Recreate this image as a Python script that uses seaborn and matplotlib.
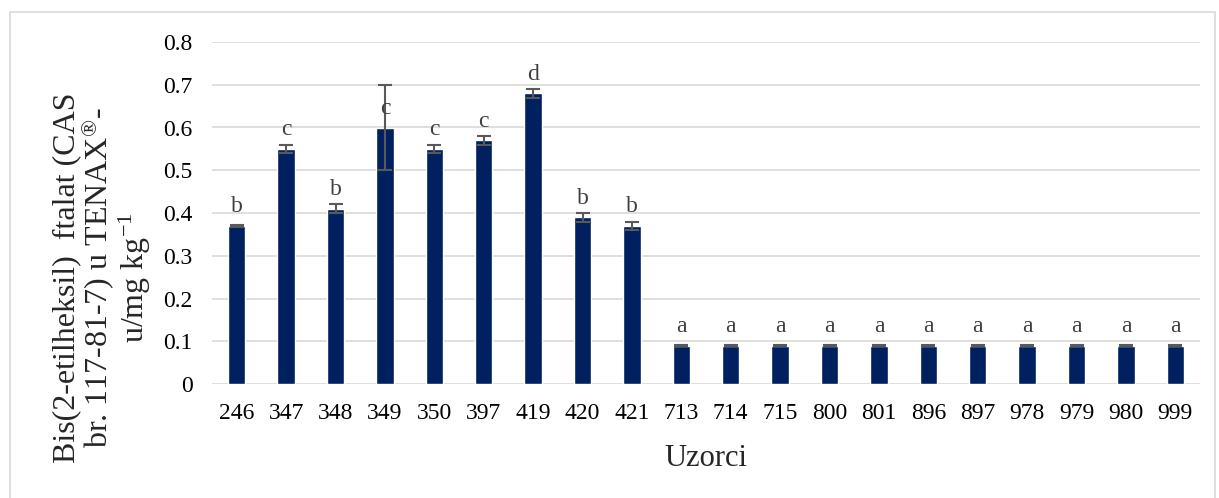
import numpy as np
import pandas as pd
import matplotlib
matplotlib.use("Agg")
import matplotlib.pyplot as plt
import seaborn as sns
from matplotlib.patches import Rectangle

# podaci
uzorci = ["246", "347", "348", "349", "350", "397", "419", "420", "421", "713", "714",
          "715", "800", "801", "896", "897", "978", "979", "980", "999"]
vrijednosti = [0.37, 0.55, 0.41, 0.60, 0.55, 0.57, 0.68, 0.39, 0.37, 0.09, 0.09,
               0.09, 0.09, 0.09, 0.09, 0.09, 0.09, 0.09, 0.09, 0.09]
greske = [0.002, 0.01, 0.01, 0.10, 0.01, 0.01, 0.01, 0.01, 0.01, 0.002, 0.002,
          0.002, 0.002, 0.002, 0.002, 0.002, 0.002, 0.002, 0.002, 0.002]
slova = ["b", "c", "b", "c", "c", "c", "d", "b", "b", "a", "a",
         "a", "a", "a", "a", "a", "a", "a", "a", "a"]

df = pd.DataFrame({"Uzorak": uzorci, "Vrijednost": vrijednosti})

sns.set_style("white")
plt.rcParams["font.family"] = ["Liberation Serif", "DejaVu Serif"]
plt.rcParams["mathtext.fontset"] = "custom"
plt.rcParams["mathtext.rm"] = "Liberation Serif"
plt.rcParams["mathtext.it"] = "Liberation Serif"

fig = plt.figure(figsize=(12.19, 4.98), dpi=100)
ax = fig.add_axes([212 / 1219, 1 - 384 / 498, (1200 - 212) / 1219, (384 - 42) / 498])

# okvir grafikona
fig.patches.append(Rectangle((10 / 1219, -0.01), 1205 / 1219, 1 - 12 / 498 + 0.01,
                             transform=fig.transFigure, fill=False,
                             edgecolor="#d9d9d9", linewidth=1.2))

sns.barplot(data=df, x="Uzorak", y="Vrijednost", color="#002060", width=0.35,
            saturation=1, ax=ax, zorder=3)
x = np.arange(len(uzorci))
ax.errorbar(x, vrijednosti, yerr=greske, fmt="none", ecolor="#595959",
            elinewidth=1.5, capsize=5, capthick=1.5, zorder=4)

for xi, v, s in zip(x, vrijednosti, slova):
    ax.text(xi, v + 0.032, s, ha="center", va="baseline", fontsize=17, color="#404040", zorder=5)

ax.set_ylim(0, 0.8)
ax.set_yticks(np.arange(0, 0.81, 0.1))
ax.set_yticklabels(["0", "0.1", "0.2", "0.3", "0.4", "0.5", "0.6", "0.7", "0.8"])
ax.set_xlim(-0.5, len(uzorci) - 0.5)
ax.yaxis.grid(True, color="#d9d9d9", linewidth=1.2, zorder=0)
ax.set_axisbelow(True)
for sp in ax.spines.values():
    sp.set_visible(False)
ax.tick_params(axis="both", length=0, labelsize=17, colors="black")
ax.tick_params(axis="y", pad=14)
ax.tick_params(axis="x", pad=14)

ax.set_xlabel("Uzorci", fontsize=22, labelpad=14)
ax.set_ylabel("Bis(2-etilheksil)  ftalat (CAS\nbr. 117-81-7) u TENAX$^{®}$-\nu/mg kg$^{-1}$",
              fontsize=23, linespacing=1.0, labelpad=7)
ax.yaxis.label.set_y(0.31)

fig.savefig("out.png", dpi=100)
